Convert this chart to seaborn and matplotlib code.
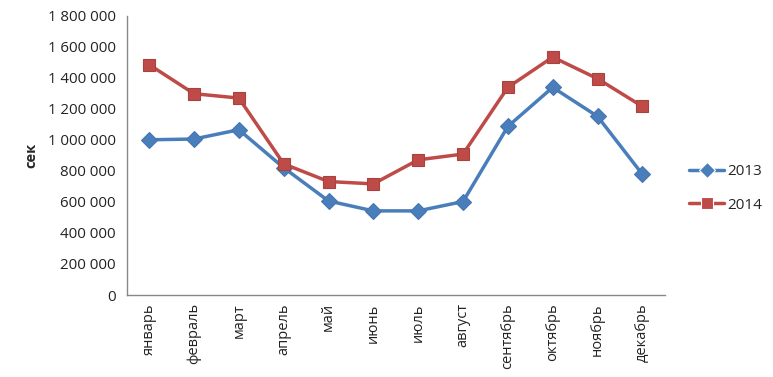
import numpy as np
import pandas as pd
import matplotlib
matplotlib.use("Agg")
import matplotlib.pyplot as plt
import matplotlib.ticker as mticker
import seaborn as sns

months = ['январь', 'февраль', 'март', 'апрель', 'май', 'июнь',
          'июль', 'август', 'сентябрь', 'октябрь', 'ноябрь', 'декабрь']
y2013 = [1000000, 1005000, 1065000, 820000, 606000, 542000,
         542000, 602000, 1086000, 1338000, 1151000, 778000]
y2014 = [1484000, 1297000, 1269000, 845000, 731000, 716000,
         871000, 908000, 1338000, 1533000, 1394000, 1215000]

df = pd.DataFrame({
    'pos': list(range(len(months))) * 2,
    'value': y2013 + y2014,
    'year': ['2013'] * len(months) + ['2014'] * len(months),
})

sns.set_style("white")
plt.rcParams['font.family'] = ['Open Sans', 'DejaVu Sans']

fig = plt.figure(figsize=(7.73, 3.77), dpi=100)
ax = fig.add_axes([0.164, 0.2175, 0.696, 0.741])

colors = {'2013': '#4A7EBB', '2014': '#BE4B48'}
sns.lineplot(data=df, x='pos', y='value', hue='year', style='year',
             palette=colors, markers={'2013': 'D', '2014': 's'},
             dashes=False, linewidth=2.5, markersize=8, ax=ax,
             markeredgewidth=0.8)
for ln, ec in zip(ax.lines, ['#4676b0', '#a8423f']):
    ln.set_markeredgecolor(ec)
ax.lines[1].set_markersize(9)

ax.set_xlim(-0.5, len(months) - 0.5)
ax.set_ylim(0, 1800000)
ax.yaxis.set_major_locator(mticker.MultipleLocator(200000))
ax.yaxis.set_major_formatter(mticker.FuncFormatter(
    lambda v, p: f"{int(v):,}".replace(",", " ")))

ax.set_xticks(np.arange(len(months)))
ax.set_xticklabels(months, rotation=90, fontsize=10.5, color='#222222')
ax.set_xticks(np.arange(-0.5, len(months)), minor=True)
ax.tick_params(axis='x', which='major', length=0, pad=6)
ax.tick_params(axis='x', which='minor', length=5, color='#888888', direction='out')
ax.tick_params(axis='y', length=5, color='#888888', direction='out',
               labelsize=10.8, labelcolor='#222222', pad=3)

for s in ['top', 'right']:
    ax.spines[s].set_visible(False)
for s in ['left', 'bottom']:
    ax.spines[s].set_color('#888888')
    ax.spines[s].set_linewidth(1)

ax.set_xlabel('')
ax.set_ylabel('сек', fontsize=10.5, fontweight='bold', labelpad=7)

h, l = ax.get_legend_handles_labels()
for hd in h:
    hd.set_linewidth(2.5)
ax.legend(h, l, loc='center left', bbox_to_anchor=(0.874, 0.5),
          bbox_transform=fig.transFigure, frameon=False, fontsize=11,
          handlelength=2.3, labelspacing=1.2, handletextpad=0.2)

fig.savefig('out.png', dpi=100)
